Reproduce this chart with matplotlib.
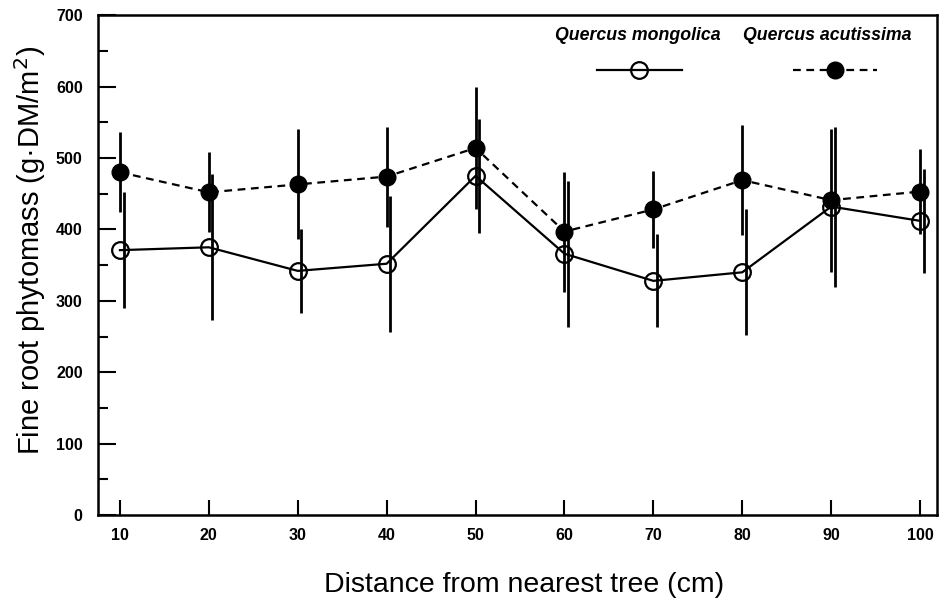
import numpy as np
import matplotlib.pyplot as plt
from matplotlib.lines import Line2D
from matplotlib.ticker import MultipleLocator

plt.rcParams["font.family"] = ["Liberation Sans", "DejaVu Sans"]

# --- data ---
distance = [10, 20, 30, 40, 50, 60, 70, 80, 90, 100]
xtick_labels = ["10", "20", "30", "40", "50", "60", "70", "80", "90", "100"]

mongolica_mean = [371, 375, 342, 352, 475, 366, 328, 340, 432, 412]
mongolica_sd = [81, 102, 59, 95, 80, 102, 65, 88, 112, 73]

acutissima_mean = [480, 452, 463, 474, 514, 397, 428, 469, 441, 453]
acutissima_sd = [56, 56, 77, 70, 85, 84, 54, 77, 100, 60]

bar_shift = 0.4  # open-circle error bars sit a little to the right

fig = plt.figure(figsize=(9.45, 6.04), dpi=100)
ax = fig.add_axes([0.1037, 0.147, 0.8878, 0.828])

x = np.array(distance, dtype=float)

# error bars (no caps)
ax.errorbar(x + bar_shift, mongolica_mean, yerr=mongolica_sd, fmt="none",
            ecolor="black", elinewidth=2.0, capsize=0, zorder=2)
ax.errorbar(x, acutissima_mean, yerr=acutissima_sd, fmt="none",
            ecolor="black", elinewidth=2.0, capsize=0, zorder=2)

ax.plot(x, acutissima_mean, color="black", lw=1.6, ls=(0, (3.5, 2.5)),
        marker="o", ms=12, mfc="black", mec="black", zorder=3)
ax.plot(x, mongolica_mean, color="black", lw=1.6, ls="-",
        marker="o", ms=12, mfc="none", mec="black", mew=1.6, zorder=4)

ax.set_xlim(7.53, 101.9)
ax.set_ylim(0, 700)
ax.set_xticks(distance)
ax.set_xticklabels(xtick_labels)
ax.yaxis.set_major_locator(MultipleLocator(100))
ax.yaxis.set_minor_locator(MultipleLocator(50))

ax.tick_params(axis="both", which="major", direction="in", width=1.5,
               labelsize=11.5, colors="black")
ax.tick_params(axis="y", which="major", length=13, pad=11)
ax.tick_params(axis="y", which="minor", direction="in", length=7, width=1.5)
ax.tick_params(axis="x", which="major", length=11, pad=9)
for lab in ax.get_xticklabels() + ax.get_yticklabels():
    lab.set_fontweight("bold")

for sp in ax.spines.values():
    sp.set_linewidth(1.8)

ax.set_xlabel("Distance from nearest tree (cm)", fontsize=20.5)
ax.xaxis.set_label_coords(0.508, -0.14)
ax.xaxis.label.set_va("center")
ax.set_ylabel("Fine root phytomass (g·DM/m$^2$)", fontsize=21)
ax.yaxis.set_label_coords(-0.081, 0.53)
ax.yaxis.label.set_va("center")

# legend: names above, line samples below
fig.text(0.675, 0.942, "Quercus mongolica", ha="center", va="center",
         fontsize=12.8, fontweight="bold", fontstyle="italic")
fig.text(0.875, 0.942, "Quercus acutissima", ha="center", va="center",
         fontsize=12.8, fontweight="bold", fontstyle="italic")
handles = [
    Line2D([], [], color="black", lw=1.6, marker="o", ms=12, mfc="none",
           mew=1.6, mec="black"),
    Line2D([], [], color="black", lw=1.6, ls=(0, (3.5, 2.5)), marker="o",
           ms=12, mfc="black", mec="black"),
]
fig.legend(handles, ["", ""], ncol=2, loc="center",
           bbox_to_anchor=(0.780, 0.882), frameon=False, numpoints=1,
           handlelength=6.1, handletextpad=0.0, columnspacing=8.0,
           fontsize=10)

fig.savefig("out.png", dpi=100)
